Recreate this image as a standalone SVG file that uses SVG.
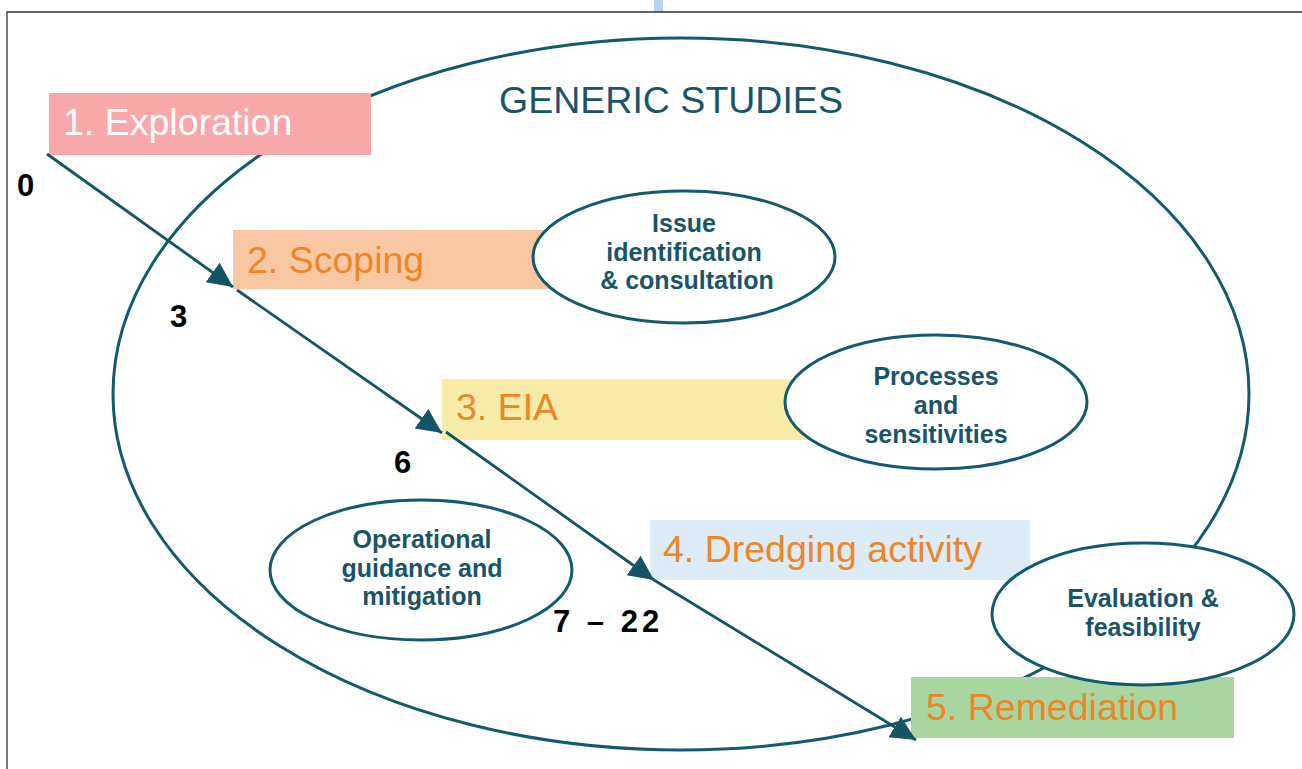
<svg xmlns="http://www.w3.org/2000/svg" width="1302" height="769" viewBox="0 0 1302 769">
<style>
.frame{stroke:#333;stroke-width:1.3;fill:none}
.ring{fill:none;stroke:#145a6e;stroke-width:3}
.bub{fill:#fff;stroke:#145a6e;stroke-width:3}
.stage{font-family:"Liberation Sans",Arial,sans-serif;font-size:37.5px;fill:#ed8628}
.bt{font-family:"Liberation Sans",Arial,sans-serif;font-size:25px;font-weight:bold;fill:#1a5468;text-anchor:middle}
.num{font-family:"Liberation Sans",Arial,sans-serif;font-size:31px;font-weight:bold;fill:#000}
.conn{stroke:#155467;stroke-width:2.8;fill:none;marker-end:url(#ah)}
</style>
<defs>
<marker id="ah" markerUnits="userSpaceOnUse" markerWidth="26" markerHeight="26" viewBox="0 0 26 26" refX="25" refY="12" orient="auto">
<path d="M0,0 L25,12 L0,24 z" fill="#155467"/>
</marker>
</defs>
<rect x="0" y="0" width="1302" height="769" fill="#fff"/>
<rect x="654" y="0" width="9" height="12" fill="#bcd3ee"/>
<path class="frame" d="M7,769 V12 H1302"/>
<g id="generic-studies">
<ellipse class="ring" cx="681" cy="394" rx="568" ry="356"/>
<text x="671" y="113" font-family="Liberation Sans,Arial,sans-serif" font-size="37.5" fill="#1a5468" text-anchor="middle">GENERIC STUDIES</text>
</g>
<g id="exploration">
<rect x="49" y="93" width="322" height="62" fill="#f8a8a8"/>
<text class="stage" x="63" y="135" style="fill:#fff">1. Exploration</text>
</g>
<g id="scoping">
<rect x="233" y="230" width="330" height="59" fill="#f9c8a2"/>
<text class="stage" x="247" y="273">2. Scoping</text>
</g>
<g id="eia">
<rect x="442" y="379" width="370" height="61" fill="#f8eba8"/>
<text class="stage" x="456" y="420">3. EIA</text>
</g>
<g id="dredging">
<rect x="650" y="520" width="380" height="60" fill="#dcebf6"/>
<text class="stage" x="663" y="562">4. Dredging activity</text>
</g>
<g id="remediation">
<rect x="911" y="677" width="323" height="61" fill="#a9d6a0"/>
<text class="stage" x="926" y="720">5. Remediation</text>
</g>
<g id="issue">
<ellipse class="bub" cx="684" cy="257" rx="151" ry="66"/>
<text class="bt" x="684" y="232">Issue</text>
<text class="bt" x="684" y="261">identification</text>
<text class="bt" x="687" y="289">&amp; consultation</text>
</g>
<g id="processes">
<ellipse class="bub" cx="936" cy="402" rx="151" ry="67"/>
<text class="bt" x="936" y="385">Processes</text>
<text class="bt" x="936" y="414">and</text>
<text class="bt" x="936" y="443">sensitivities</text>
</g>
<g id="operational">
<ellipse class="bub" cx="421" cy="570" rx="151" ry="70"/>
<text class="bt" x="422" y="548">Operational</text>
<text class="bt" x="422" y="577">guidance and</text>
<text class="bt" x="422" y="605">mitigation</text>
</g>
<g id="evaluation">
<ellipse class="bub" cx="1143" cy="614" rx="151" ry="71"/>
<text class="bt" x="1143" y="607">Evaluation &amp;</text>
<text class="bt" x="1143" y="636">feasibility</text>
</g>
<g id="numbers">
<text class="num" x="17" y="196">0</text>
<text class="num" x="170" y="327">3</text>
<text class="num" x="394" y="473">6</text>
<text class="num" x="553" y="632" letter-spacing="4">7 – 22</text>
</g>
<g id="connectors">
<line class="conn" x1="47" y1="154" x2="233" y2="287"/>
<line class="conn" x1="237" y1="290" x2="442" y2="433"/>
<line class="conn" x1="446" y1="432" x2="654" y2="580"/>
<line class="conn" x1="654" y1="580" x2="916" y2="740"/>
</g>
</svg>
